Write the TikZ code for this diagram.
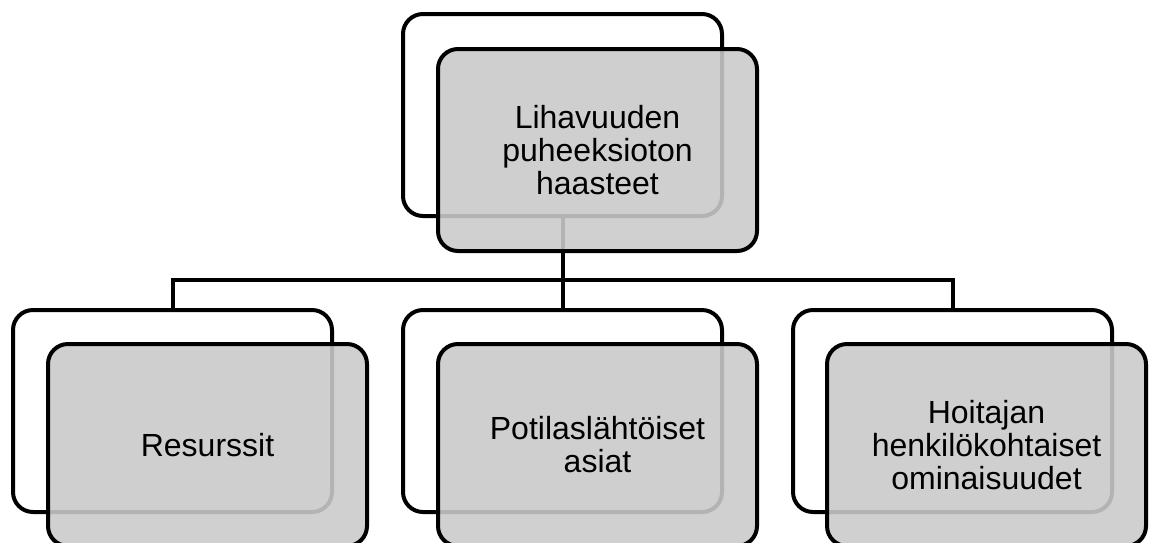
\documentclass[tikz,border=0pt]{standalone}
\usepackage{fontspec}
\setmainfont{Liberation Sans}
\definecolor{boxgray}{RGB}{202,202,202}
\tikzset{
  backbox/.style={draw=black, line width=4pt, rounded corners=20pt, fill=white,
    minimum width=319pt, minimum height=202pt, inner sep=0pt},
  frontbox/.style={draw=black, line width=4pt, rounded corners=20pt, fill=boxgray,
    fill opacity=0.89, draw opacity=1, text opacity=1, minimum width=319pt,
    minimum height=202pt, inner sep=0pt, align=center,
    font=\fontsize{32}{33}\selectfont},
  link/.style={draw=black, line width=4pt}
}
\begin{document}
\begin{tikzpicture}[x=1pt,y=-1pt]
\useasboundingbox (0,0) rectangle (1150,542);
% back boxes
\node[backbox] (tb) at (562.5,115) {};
\node[backbox] (lb) at (172.5,411) {};
\node[backbox] (mb) at (562.5,411) {};
\node[backbox] (rb) at (952.5,411) {};
% connectors
\coordinate (j) at (562.5,280);
\draw[link] (tb.south) -- (j);
\draw[link] (j) -| (lb.north);
\draw[link] (j) -- (mb.north);
\draw[link] (j) -| (rb.north);
% front boxes
\node[frontbox] (tf) at (597.5,150) {Lihavuuden\\puheeksioton\\haasteet};
\node[frontbox] (lf) at (207.5,445) {Resurssit};
\node[frontbox] (mf) at (597.5,445) {Potilaslähtöiset\\asiat};
\node[frontbox] (rf) at (986.5,445) {Hoitajan\\henkilökohtaiset\\ominaisuudet};
\end{tikzpicture}
\end{document}
